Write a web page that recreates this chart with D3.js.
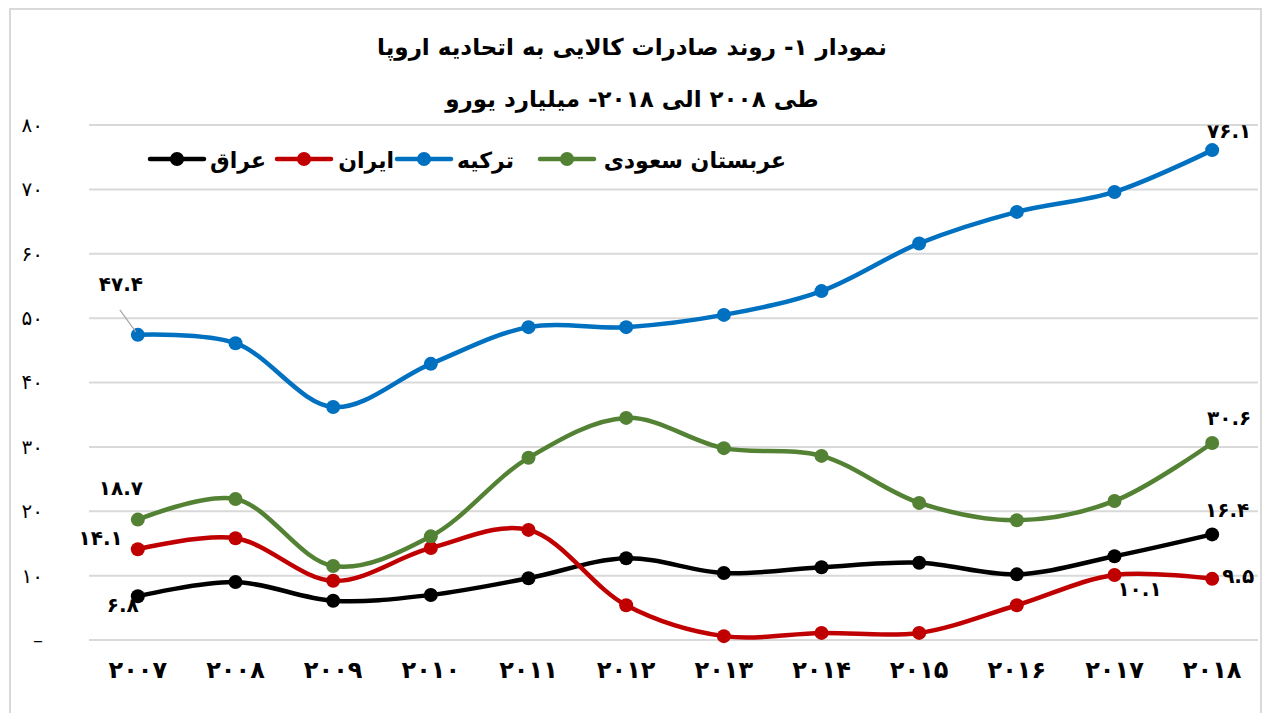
<!DOCTYPE html>
<html><head><meta charset="utf-8">
<script src="https://cdn.jsdelivr.net/npm/d3@7"></script>
<style>
html,body{margin:0;padding:0;background:#fff;}
svg text{font-family:"DejaVu Sans","Noto Sans",sans-serif;}
</style></head>
<body><svg id="c" width="1262" height="713"></svg>
<script>
const years = ["۲۰۰۷","۲۰۰۸","۲۰۰۹","۲۰۱۰","۲۰۱۱","۲۰۱۲","۲۰۱۳","۲۰۱۴","۲۰۱۵","۲۰۱۶","۲۰۱۷","۲۰۱۸"];
const iraq   = [6.8, 9.0, 6.1, 7.0, 9.6, 12.7, 10.4, 11.3, 12.0, 10.2, 13.0, 16.4];
const iran   = [14.1, 15.8, 9.2, 14.3, 17.1, 5.4, 0.6, 1.1, 1.1, 5.4, 10.1, 9.5];
const turkey = [47.4, 46.1, 36.2, 42.9, 48.6, 48.6, 50.5, 54.2, 61.6, 66.5, 69.6, 76.1];
const saudi  = [18.7, 21.9, 11.5, 16.1, 28.3, 34.5, 29.8, 28.6, 21.3, 18.6, 21.6, 30.6];
const yTicks = [0, 10, 20, 30, 40, 50, 60, 70, 80];
const yTickLabels = ["–","۱۰","۲۰","۳۰","۴۰","۵۰","۶۰","۷۰","۸۰"];
const titleLines = ["نمودار ۱- روند صادرات کالایی به اتحادیه اروپا","طی ۲۰۰۸ الی ۲۰۱۸- میلیارد یورو"];
const seriesNames = ["عراق","ایران","ترکیه","عربستان سعودی"];
const seriesColors = ["#000000","#c00000","#0070c0","#548235"];
const seriesData = [iraq, iran, turkey, saudi];

const fa = s => String(s).replace(/\d/g, d => "۰۱۲۳۴۵۶۷۸۹"[d]);

const svg = d3.select("#c");
svg.append("path").attr("d","M10,713 L10,9 L1261,9 L1261,713")
  .attr("fill","none").attr("stroke","#d9d9d9").attr("stroke-width",2);

const x = d3.scaleBand().domain(years).range([89,1261]);
const y = d3.scaleLinear().domain([0,80]).range([640,125]);
const cx = d => x(d) + x.bandwidth()/2;

svg.append("g").selectAll("line").data(yTicks).join("line")
  .attr("x1",89).attr("x2",1258).attr("y1",d=>y(d)).attr("y2",d=>y(d))
  .attr("stroke","#d9d9d9").attr("stroke-width",2);

const yAxis = d3.axisLeft(y).tickValues(yTicks).tickSize(0)
  .tickFormat((d,i)=>yTickLabels[i]);
const ga = svg.append("g").attr("transform","translate(43,0)").call(yAxis);
ga.select(".domain").remove();
ga.selectAll("text").attr("font-size",20).attr("fill","#000").attr("text-anchor","end").attr("x",0);

const xAxis = d3.axisBottom(x).tickSize(0);
const gx = svg.append("g").attr("transform","translate(0,656)").call(xAxis);
gx.select(".domain").remove();
gx.selectAll("text").attr("font-size",24).attr("font-weight","bold").attr("fill","#000").attr("dy","0.8em");

const line = d3.line().x((d,i)=>cx(years[i])).y(d=>y(d)).curve(d3.curveCatmullRom.alpha(0.5));
seriesData.forEach((s,k)=>{
  const g = svg.append("g");
  g.append("path").datum(s).attr("d",line).attr("fill","none")
    .attr("stroke",seriesColors[k]).attr("stroke-width",4.5).attr("stroke-linecap","round");
  g.selectAll("circle").data(s).join("circle")
    .attr("cx",(d,i)=>cx(years[i])).attr("cy",d=>y(d)).attr("r",7).attr("fill",seriesColors[k]);
});

const lab = (txt, px, py, anchor) => svg.append("text").text(txt).attr("x",px).attr("y",py)
  .attr("text-anchor",anchor).attr("font-size",20).attr("font-weight","bold").attr("fill","#000")
  .attr("dominant-baseline","middle");
const X0 = cx(years[0]), X11 = cx(years[11]), X10 = cx(years[10]);
svg.append("line").attr("x1",X0-18).attr("y1",y(turkey[0])-25).attr("x2",X0-2).attr("y2",y(turkey[0])-3)
  .attr("stroke","#a6a6a6").attr("stroke-width",1.2);
lab(fa(turkey[0].toFixed(1)), X0-17, y(turkey[0])-49, "middle");
lab(fa(saudi[0].toFixed(1)), X0-17, y(saudi[0])-30, "middle");
lab(fa(iran[0].toFixed(1)), X0-15, y(iran[0])-10, "end");
lab(fa(iraq[0].toFixed(1)), X0-15, y(iraq[0])+10, "middle");
lab(fa(turkey[11].toFixed(1)), X11+17, y(turkey[11])-18, "middle");
lab(fa(saudi[11].toFixed(1)), X11+17, y(saudi[11])-24, "middle");
lab(fa(iraq[11].toFixed(1)), X11+15, y(iraq[11])-23, "middle");
lab(fa(iran[11].toFixed(1)), X11+10, y(iran[11])-1, "start");
lab(fa(iran[10].toFixed(1)), X10+25, y(iran[10])+16, "middle");

svg.selectAll("text.title").data(titleLines).join("text").attr("class","title")
  .attr("x",632).attr("y",(d,i)=>48+i*52).attr("text-anchor","middle")
  .attr("dominant-baseline","middle").attr("font-size",23).attr("font-weight","bold")
  .attr("fill","#000").text(d=>d);

const legendItems = [
  {name: seriesNames[0], color: seriesColors[0], mx: 150, tx: 266},
  {name: seriesNames[1], color: seriesColors[1], mx: 277, tx: 394},
  {name: seriesNames[2], color: seriesColors[2], mx: 397, tx: 514},
  {name: seriesNames[3], color: seriesColors[3], mx: 540, tx: 786}
];
const lg = svg.append("g");
legendItems.forEach(it=>{
  lg.append("line").attr("x1",it.mx).attr("x2",it.mx+54).attr("y1",159).attr("y2",159)
    .attr("stroke",it.color).attr("stroke-width",4.5).attr("stroke-linecap","round");
  lg.append("circle").attr("cx",it.mx+27).attr("cy",159).attr("r",7).attr("fill",it.color);
  lg.append("text").attr("x",it.tx).attr("y",162).attr("text-anchor","end")
    .attr("dominant-baseline","middle").attr("font-size",22).attr("font-weight","bold")
    .attr("fill","#000").text(it.name);
});
</script></body></html>
